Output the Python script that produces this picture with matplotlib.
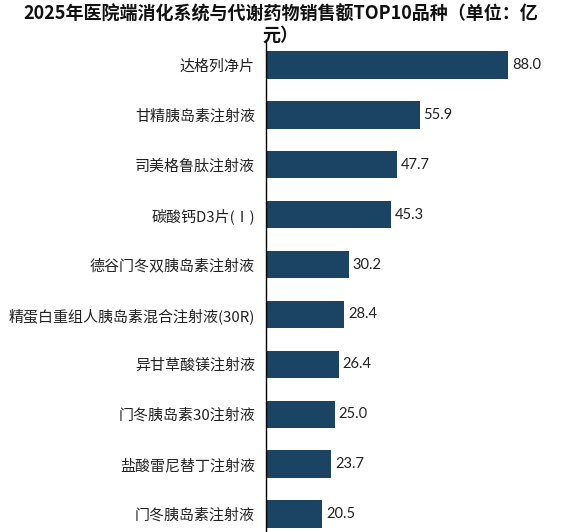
import matplotlib
matplotlib.use("Agg")
import matplotlib.pyplot as plt

plt.rcParams['font.family'] = ['Noto Sans CJK SC', 'DejaVu Sans']

title = "2025年医院端消化系统与代谢药物销售额TOP10品种（单位：亿\n元）"
categories = ["达格列净片", "甘精胰岛素注射液", "司美格鲁肽注射液", "碳酸钙D3片(Ⅰ)",
              "德谷门冬双胰岛素注射液", "精蛋白重组人胰岛素混合注射液(30R)",
              "异甘草酸镁注射液", "门冬胰岛素30注射液", "盐酸雷尼替丁注射液", "门冬胰岛素注射液"]
values = [88.0, 55.9, 47.7, 45.3, 30.2, 28.4, 26.4, 25.0, 23.7, 20.5]

W, H = 561, 532
fig = plt.figure(figsize=(W / 100, H / 100), dpi=100)
left = 266 / W
top = 1 - 40 / H
bottom = 1 - 539 / H
ax = fig.add_axes([left, bottom, 1 - left, top - bottom])

color = '#1A4364'
ypos = list(range(len(categories)))
ax.barh(ypos, values, height=0.55, color=color)
ax.set_ylim(len(categories) - 0.5, -0.5)
ax.set_xlim(0, (W - 266) / 2.75)

for y, v in zip(ypos, values):
    ax.text(v + 1.4, y, f"{v:.1f}", va='center', ha='left', fontsize=10.5,
            family=['Lato', 'DejaVu Sans'], color='#222222')

ax.set_yticks(ypos)
ax.set_yticklabels(categories, fontsize=10.8, color='#222222')
ax.tick_params(axis='y', length=0, pad=8)
ax.set_xticks([])
for s in ['top', 'right', 'bottom']:
    ax.spines[s].set_visible(False)
ax.spines['left'].set_color('#000000')
ax.spines['left'].set_linewidth(1.0)

fig.text(0.5, 1 - 5 / H, title, ha='center', va='top', fontsize=13, fontweight='bold',
         linespacing=1.1, color='#111111')

fig.savefig("out.png", dpi=100)
